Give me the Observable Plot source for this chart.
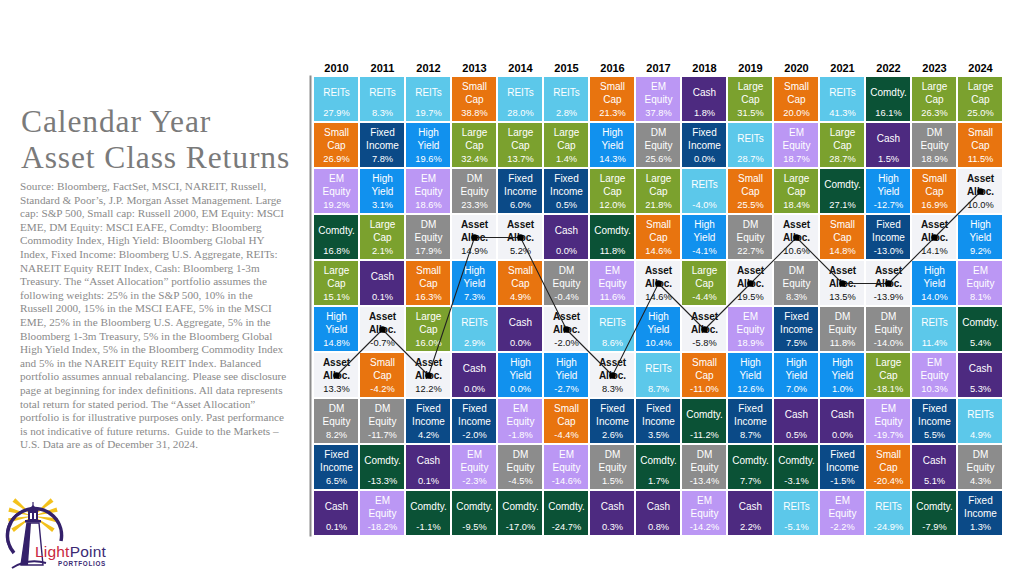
<!DOCTYPE html>
<html>
<head>
<meta charset="utf-8">
<script src="https://cdn.jsdelivr.net/npm/d3@7"></script>
<script src="https://cdn.jsdelivr.net/npm/@observablehq/plot@0.6"></script>
<style>
  html, body { margin: 0; padding: 0; background: #fff; }
  body { width: 1024px; height: 576px; position: relative; overflow: hidden; font-family: "Liberation Sans", Arial, sans-serif; }
  #title { position: absolute; left: 21px; top: 104px; font-family: "Liberation Serif", "Times New Roman", serif; font-size: 31.5px; line-height: 36px; color: #7a7a7a; letter-spacing: 0.9px; white-space: nowrap; }
  #note { position: absolute; left: 20px; top: 180px; font-family: "Liberation Serif", "Times New Roman", serif; font-size: 11.2px; line-height: 13.6px; color: #8a8a8a; white-space: nowrap; }
  #chart { position: absolute; left: 290px; top: 50px; }
  #logo { position: absolute; left: 0px; top: 495px; }
</style>
</head>
<body>
<div id="title">Calendar Year<br>Asset Class Returns</div>
<div id="note">Source: Bloomberg, FactSet, MSCI, NAREIT, Russell,<br>Standard &amp; Poor’s, J.P. Morgan Asset Management. Large<br>cap: S&amp;P 500, Small cap: Russell 2000, EM Equity: MSCI<br>EME, DM Equity: MSCI EAFE, Comdty: Bloomberg<br>Commodity Index, High Yield: Bloomberg Global HY<br>Index, Fixed Income: Bloomberg U.S. Aggregate, REITs:<br>NAREIT Equity REIT Index, Cash: Bloomberg 1-3m<br>Treasury. The “Asset Allocation” portfolio assumes the<br>following weights: 25% in the S&amp;P 500, 10% in the<br>Russell 2000, 15% in the MSCI EAFE, 5% in the MSCI<br>EME, 25% in the Bloomberg U.S. Aggregate, 5% in the<br>Bloomberg 1-3m Treasury, 5% in the Bloomberg Global<br>High Yield Index, 5% in the Bloomberg Commodity Index<br>and 5% in the NAREIT Equity REIT Index. Balanced<br>portfolio assumes annual rebalancing. Please see disclosure<br>page at beginning for index definitions. All data represents<br>total return for stated period. The “Asset Allocation”<br>portfolio is for illustrative purposes only. Past performance<br>is not indicative of future returns.&nbsp; Guide to the Markets –<br>U.S. Data are as of December 31, 2024.</div>
<div id="chart"></div>
<svg id="logo" width="120" height="81" viewBox="0 495 120 81">
  <g id="rays" fill="#F3C11C"></g>
  <path d="M 14 553 A 27 27 0 1 1 61 541" fill="none" stroke="#34206A" stroke-width="3.5"/>
  <path d="M 10 548 A 27 27 0 0 1 20 512" fill="none" stroke="#34206A" stroke-width="2"/>
  <line x1="33" y1="502" x2="33" y2="507" stroke="#34206A" stroke-width="1.2"/>
  <polygon points="27,511 33,505 39,511" fill="#34206A"/>
  <rect x="28" y="511" width="10" height="9" fill="#34206A"/>
  <rect x="30" y="513" width="2" height="6" fill="#fff"/>
  <rect x="34" y="513" width="2" height="6" fill="#fff"/>
  <rect x="25" y="520" width="16" height="2.5" fill="#34206A"/>
  <polygon points="27,523 39,523 43,565 21,565" fill="#fff" stroke="#34206A" stroke-width="1.4"/>
  <polygon points="27,523 31,523 28,565 21,565" fill="#34206A"/>
  <path d="M 12 568 Q 28 558 46 563" fill="none" stroke="#34206A" stroke-width="2"/>
  <text x="35" y="557" font-family="Liberation Sans, Arial, sans-serif" font-size="15.5" letter-spacing="0.2"><tspan fill="#C8283E">Light</tspan><tspan fill="#3B2A74">Point</tspan></text>
  <text x="58" y="565.5" font-family="Liberation Sans, Arial, sans-serif" font-size="6.3" font-weight="bold" letter-spacing="0.7" fill="#3B2A74">PORTFOLIOS</text>
</svg>
<script>
// ---- data ----
const years = ["2010","2011","2012","2013","2014","2015","2016","2017","2018","2019","2020","2021","2022","2023","2024"];
const categories = ["REITs","Small Cap","EM Equity","Comdty.","Large Cap","High Yield","Asset Alloc.","DM Equity","Fixed Income","Cash"];
const categoryLabels = ["REITs","Small\nCap","EM\nEquity","Comdty.","Large\nCap","High\nYield","Asset\nAlloc.","DM\nEquity","Fixed\nIncome","Cash"];
const palette = ["#5CC8EA","#E8740F","#BB97F4","#0B5236","#7BA12E","#1191EE","#F2F3F7","#8C8C8C","#0B4A87","#4D2A80"];

// asset classes in rank order (best to worst) per year
const rankedClasses = [
  ["REITs","Small Cap","EM Equity","Comdty.","Large Cap","High Yield","Asset Alloc.","DM Equity","Fixed Income","Cash"],
  ["REITs","Fixed Income","High Yield","Large Cap","Cash","Asset Alloc.","Small Cap","DM Equity","Comdty.","EM Equity"],
  ["REITs","High Yield","EM Equity","DM Equity","Small Cap","Large Cap","Asset Alloc.","Fixed Income","Cash","Comdty."],
  ["Small Cap","Large Cap","DM Equity","Asset Alloc.","High Yield","REITs","Cash","Fixed Income","EM Equity","Comdty."],
  ["REITs","Large Cap","Fixed Income","Asset Alloc.","Small Cap","Cash","High Yield","EM Equity","DM Equity","Comdty."],
  ["REITs","Large Cap","Fixed Income","Cash","DM Equity","Asset Alloc.","High Yield","Small Cap","EM Equity","Comdty."],
  ["Small Cap","High Yield","Large Cap","Comdty.","EM Equity","REITs","Asset Alloc.","Fixed Income","DM Equity","Cash"],
  ["EM Equity","DM Equity","Large Cap","Small Cap","Asset Alloc.","High Yield","REITs","Fixed Income","Comdty.","Cash"],
  ["Cash","Fixed Income","REITs","High Yield","Large Cap","Asset Alloc.","Small Cap","Comdty.","DM Equity","EM Equity"],
  ["Large Cap","REITs","Small Cap","DM Equity","Asset Alloc.","EM Equity","High Yield","Fixed Income","Comdty.","Cash"],
  ["Small Cap","EM Equity","Large Cap","Asset Alloc.","DM Equity","Fixed Income","High Yield","Cash","Comdty.","REITs"],
  ["REITs","Large Cap","Comdty.","Small Cap","Asset Alloc.","DM Equity","High Yield","Cash","Fixed Income","EM Equity"],
  ["Comdty.","Cash","High Yield","Fixed Income","Asset Alloc.","DM Equity","Large Cap","EM Equity","Small Cap","REITs"],
  ["Large Cap","DM Equity","Small Cap","Asset Alloc.","High Yield","REITs","EM Equity","Fixed Income","Cash","Comdty."],
  ["Large Cap","Small Cap","Asset Alloc.","High Yield","EM Equity","Comdty.","Cash","REITs","DM Equity","Fixed Income"]
];
// returns (%) matching rankedClasses
const rankedReturns = [
  [27.9, 26.9, 19.2, 16.8, 15.1, 14.8, 13.3, 8.2, 6.5, 0.1],
  [8.3, 7.8, 3.1, 2.1, 0.1, -0.7, -4.2, -11.7, -13.3, -18.2],
  [19.7, 19.6, 18.6, 17.9, 16.3, 16.0, 12.2, 4.2, 0.1, -1.1],
  [38.8, 32.4, 23.3, 14.9, 7.3, 2.9, 0.0, -2.0, -2.3, -9.5],
  [28.0, 13.7, 6.0, 5.2, 4.9, 0.0, 0.0, -1.8, -4.5, -17.0],
  [2.8, 1.4, 0.5, 0.0, -0.4, -2.0, -2.7, -4.4, -14.6, -24.7],
  [21.3, 14.3, 12.0, 11.8, 11.6, 8.6, 8.3, 2.6, 1.5, 0.3],
  [37.8, 25.6, 21.8, 14.6, 14.6, 10.4, 8.7, 3.5, 1.7, 0.8],
  [1.8, 0.0, -4.0, -4.1, -4.4, -5.8, -11.0, -11.2, -13.4, -14.2],
  [31.5, 28.7, 25.5, 22.7, 19.5, 18.9, 12.6, 8.7, 7.7, 2.2],
  [20.0, 18.7, 18.4, 10.6, 8.3, 7.5, 7.0, 0.5, -3.1, -5.1],
  [41.3, 28.7, 27.1, 14.8, 13.5, 11.8, 1.0, 0.0, -1.5, -2.2],
  [16.1, 1.5, -12.7, -13.0, -13.9, -14.0, -18.1, -19.7, -20.4, -24.9],
  [26.3, 18.9, 16.9, 14.1, 14.0, 11.4, 10.3, 5.5, 5.1, -7.9],
  [25.0, 11.5, 10.0, 9.2, 8.1, 5.4, 5.3, 4.9, 4.3, 1.3]
];
const ranks = [1,2,3,4,5,6,7,8,9,10];
const allocationClass = "Asset Alloc.";

// ---- build table ----
const cells = years.flatMap((year, i) =>
  rankedClasses[i].map((cls, j) => ({year, rank: ranks[j], cls, ret: rankedReturns[i][j]}))
);
const labelOf = (cls) => categoryLabels[categories.indexOf(cls)];
const fmt = (v) => v.toFixed(1) + "%";
const others = cells.filter(d => d.cls !== allocationClass);
const alloc = cells.filter(d => d.cls === allocationClass);

const chart = Plot.plot({
  width: 720,
  height: 500,
  marginLeft: 22,
  marginRight: 7,
  marginTop: 26,
  marginBottom: 15,
  style: {fontFamily: '"Liberation Sans", Arial, sans-serif', background: "transparent", color: "#000"},
  x: {type: "band", domain: years, paddingInner: 0.045, paddingOuter: 0},
  y: {type: "band", domain: ranks, paddingInner: 0.045, paddingOuter: 0, axis: null},
  color: {domain: categories, range: palette},
  marks: [
    Plot.axisX({anchor: "top", tickSize: 0, tickPadding: 5, fontSize: 11, fontWeight: "bold", label: null}),
    Plot.cell(cells, {x: "year", y: "rank", fill: "cls"}),
    Plot.frame({anchor: "left", stroke: "#8c8c8c", strokeWidth: 2, dx: -2}),
    Plot.text(others, {x: "year", y: "rank", text: d => labelOf(d.cls), fill: "white", fontSize: 10, lineHeight: 1.3, dy: -7.5}),
    Plot.text(others, {x: "year", y: "rank", text: d => fmt(d.ret), fill: "white", fontSize: 9.3, dy: 14}),
    Plot.text(alloc, {x: "year", y: "rank", text: d => labelOf(d.cls), fill: "#111", fontWeight: "bold", fontSize: 10, lineHeight: 1.3, dy: -7.5}),
    Plot.text(alloc, {x: "year", y: "rank", text: d => fmt(d.ret), fill: "#111", fontSize: 9.3, dy: 14}),
    Plot.line(alloc, {x: "year", y: "rank", stroke: "#222", strokeWidth: 1.1}),
    Plot.dot(alloc, {x: "year", y: "rank", r: 3.3, fill: "#000"})
  ]
});
document.getElementById("chart").append(chart);

// logo rays
(function () {
  const g = document.getElementById("rays");
  const cx = 33, cy = 516, L = 25, hw = 5 * Math.PI / 180;
  [-40, -15, 10, 35, 145, 170, 195, 220].forEach(a => {
    const t = a * Math.PI / 180;
    const p1 = [cx + L * Math.cos(t - hw), cy + L * Math.sin(t - hw)];
    const p2 = [cx + L * Math.cos(t + hw), cy + L * Math.sin(t + hw)];
    const poly = document.createElementNS("http://www.w3.org/2000/svg", "polygon");
    poly.setAttribute("points", `${cx},${cy} ${p1.join(",")} ${p2.join(",")}`);
    g.appendChild(poly);
  });
})();
</script>
</body>
</html>
